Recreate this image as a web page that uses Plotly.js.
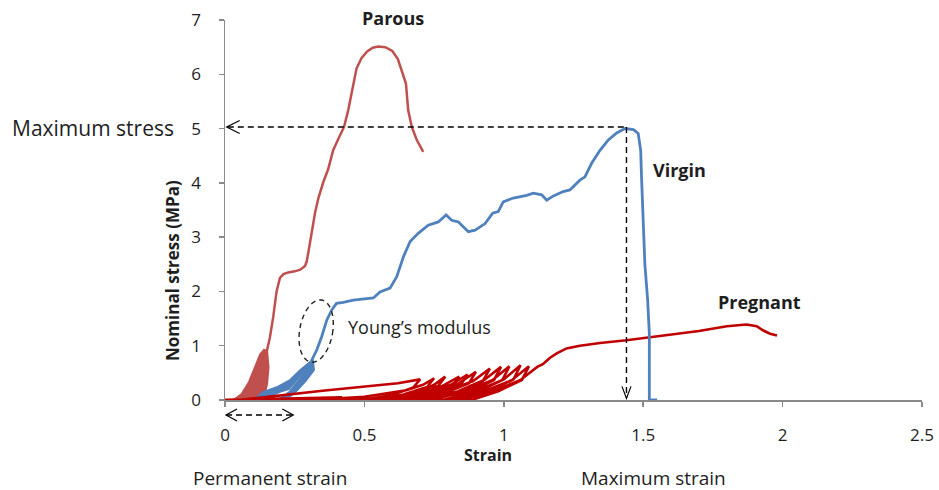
<!DOCTYPE html>
<html>
<head>
<meta charset="utf-8">
<script src="https://cdn.plot.ly/plotly-3.0.1.min.js"></script>
<style>html,body{margin:0;padding:0;background:#fff;}#chart{width:939px;height:490px;}</style>
</head>
<body>
<div id="chart"></div>
<script>
// ---------- data ----------
const xTickVals = [0, 0.5, 1, 1.5, 2, 2.5];
const xTickText = ['0', '0.5', '1', '1.5', '2', '2.5'];
const yTickVals = [0, 1, 2, 3, 4, 5, 6, 7];
const yTickText = ['0', '1', '2', '3', '4', '5', '6', '7'];

// Parous: preconditioning cycles (dense wedge) and main curve
const parousCycX = [0.03, 0.06, 0.085, 0.105, 0.125, 0.14, 0.152, 0.157, 0.152, 0.142, 0.132, 0.03];
const parousCycY = [0, 0.12, 0.33, 0.6, 0.84, 0.93, 0.9, 0.6, 0.3, 0.08, 0, 0];
const parousX = [0, 0.03, 0.06, 0.09, 0.11, 0.13, 0.15, 0.161, 0.173, 0.185, 0.197, 0.21, 0.227, 0.25, 0.27, 0.287, 0.293, 0.30, 0.311, 0.323, 0.335, 0.353, 0.37, 0.388, 0.41, 0.427, 0.442, 0.46, 0.472, 0.49, 0.51, 0.53, 0.55, 0.575, 0.60, 0.62, 0.634, 0.649, 0.657, 0.67, 0.688, 0.711];
const parousY = [0, 0.01, 0.05, 0.2, 0.4, 0.65, 0.9, 1.15, 1.53, 2.0, 2.25, 2.32, 2.35, 2.37, 2.4, 2.47, 2.55, 2.75, 3.13, 3.45, 3.72, 4.02, 4.25, 4.6, 4.85, 5.03, 5.34, 5.83, 6.11, 6.3, 6.42, 6.49, 6.51, 6.5, 6.43, 6.28, 6.08, 5.83, 5.34, 5.03, 4.79, 4.57];

// Virgin: preconditioning cycles (two lobes) and main curve
const virginCycAX = [0.10, 0.137, 0.19, 0.233, 0.269, 0.305, 0.316, 0.30, 0.26, 0.23, 0.20, 0.16, 0.13, 0.10];
const virginCycAY = [0, 0.15, 0.25, 0.37, 0.55, 0.71, 0.75, 0.62, 0.38, 0.2, 0.15, 0.06, 0, 0];
const virginCycBX = [0.16, 0.20, 0.23, 0.27, 0.30, 0.316, 0.32, 0.29, 0.26, 0.23, 0.21, 0.16];
const virginCycBY = [0, 0.04, 0.15, 0.4, 0.62, 0.74, 0.55, 0.35, 0.18, 0.05, 0, 0];
const virginX = [0.31, 0.329, 0.347, 0.365, 0.383, 0.40, 0.424, 0.46, 0.532, 0.556, 0.592, 0.616, 0.64, 0.664, 0.693, 0.729, 0.765, 0.793, 0.813, 0.837, 0.873, 0.897, 0.933, 0.96, 0.98, 0.998, 1.034, 1.082, 1.106, 1.136, 1.154, 1.178, 1.213, 1.237, 1.273, 1.291, 1.315, 1.345, 1.375, 1.405, 1.435, 1.465, 1.482, 1.491, 1.494, 1.50, 1.506, 1.516, 1.522, 1.522, 1.55];
const virginY = [0.72, 0.92, 1.17, 1.47, 1.66, 1.78, 1.80, 1.84, 1.88, 1.99, 2.06, 2.27, 2.64, 2.92, 3.07, 3.22, 3.28, 3.41, 3.31, 3.28, 3.10, 3.13, 3.25, 3.44, 3.47, 3.65, 3.72, 3.77, 3.81, 3.78, 3.68, 3.76, 3.84, 3.87, 4.05, 4.11, 4.36, 4.60, 4.79, 4.92, 5.00, 4.98, 4.91, 4.6, 4.11, 3.19, 2.5, 1.84, 1.23, 0, 0];

// Pregnant: incremental loading/unloading cycles (narrow hysteresis loops), then the final pull
const pregX = [0, 0.15, 0.30, 0.42, 0.25, 0.05,
  0.35, 0.62, 0.70, 0.675, 0.60, 0.50, 0.30,
  0.50, 0.65, 0.71, 0.75, 0.725, 0.64, 0.55, 0.45,
  0.60, 0.70, 0.75, 0.79, 0.765, 0.68, 0.59, 0.54,
  0.68, 0.78, 0.84, 0.815, 0.73, 0.64, 0.58,
  0.71, 0.81, 0.87, 0.845, 0.76, 0.67, 0.62,
  0.74, 0.84, 0.90, 0.875, 0.79, 0.70, 0.66,
  0.79, 0.89, 0.95, 0.925, 0.84, 0.75, 0.71,
  0.83, 0.93, 0.99, 0.965, 0.88, 0.79, 0.74,
  0.86, 0.96, 1.02, 0.995, 0.91, 0.82, 0.78,
  0.90, 1.00, 1.06, 1.035, 0.95, 0.86, 0.81,
  0.93, 1.03, 1.09, 1.065, 0.98, 0.89, 0.84,
  0.96, 1.06, 1.12,
  1.14, 1.166, 1.19, 1.225, 1.273, 1.345, 1.44, 1.52, 1.60, 1.70, 1.80, 1.871, 1.907, 1.931, 1.955, 1.98];
const pregY = [0, 0.02, 0.04, 0.05, 0.01, 0,
  0.17, 0.31, 0.38, 0.23, 0.09, 0.01, 0,
  0.06, 0.18, 0.28, 0.40, 0.24, 0.10, 0.01, 0,
  0.06, 0.16, 0.28, 0.43, 0.26, 0.11, 0.01, 0,
  0.11, 0.26, 0.43, 0.26, 0.11, 0.01, 0,
  0.12, 0.28, 0.47, 0.28, 0.12, 0.01, 0,
  0.13, 0.31, 0.52, 0.31, 0.13, 0.01, 0,
  0.15, 0.35, 0.58, 0.35, 0.15, 0.01, 0,
  0.15, 0.37, 0.61, 0.37, 0.15, 0.01, 0,
  0.16, 0.37, 0.62, 0.37, 0.16, 0.01, 0,
  0.16, 0.38, 0.64, 0.38, 0.16, 0.01, 0,
  0.16, 0.37, 0.62, 0.37, 0.16, 0.01, 0,
  0.15, 0.37, 0.61,
  0.66, 0.78, 0.86, 0.95, 1.00, 1.05, 1.10, 1.15, 1.20, 1.27, 1.36, 1.39, 1.36, 1.28, 1.22, 1.19];

// annotated quantities
const maxStress = 5.03;
const maxStrain = 1.44;
const permStrain = 0.245;
const youngCenter = [0.327, 1.27];

// ---------- colours ----------
const cParous = 'rgb(192,80,77)';
const cVirgin = 'rgb(79,129,189)';
const cPreg = 'rgb(192,0,0)';
const FONT = 'Open Sans, Noto Sans, sans-serif';
const TXT = '#1e1e1e';

const traces = [
  {x: parousCycX, y: parousCycY, mode: 'lines', fill: 'toself', fillcolor: cParous, line: {color: cParous, width: 1.5}},
  {x: parousX, y: parousY, mode: 'lines', line: {color: cParous, width: 2.5}},
  {x: virginCycAX, y: virginCycAY, mode: 'lines', fill: 'toself', fillcolor: cVirgin, line: {color: cVirgin, width: 1.5}},
  {x: virginCycBX, y: virginCycBY, mode: 'lines', fill: 'toself', fillcolor: cVirgin, line: {color: cVirgin, width: 1.5}},
  {x: pregX, y: pregY, mode: 'lines', line: {color: cPreg, width: 2.6}},
  {x: virginX, y: virginY, mode: 'lines', line: {color: cVirgin, width: 2.8}}
];

// geometry helpers (plot area: x 225..922, y 20..400 px)
const L = 225, R = 17, T = 20, B = 90, W = 939, H = 490;
const PW = W - L - R, PH = H - T - B;
const PX = px => (px - L) / PW;
const PY = py => (H - B - py) / PH;
const xPerPx = 2.5 / PW, yPerPx = 7 / PH;

function ann(text, px, py, opts) {
  return Object.assign({text: text, xref: 'paper', yref: 'paper', x: PX(px), y: PY(py),
    xanchor: 'center', yanchor: 'middle', showarrow: false,
    font: {family: FONT, size: 18, color: TXT}}, opts || {});
}

// ellipse around Young's modulus region (slightly tilted)
function ellipsePath(cx, cy, rxPx, ryPx, angDeg) {
  const a = angDeg * Math.PI / 180; let p = '';
  for (let i = 0; i <= 48; i++) {
    const t = i / 48 * 2 * Math.PI;
    const ex = rxPx * Math.cos(t), ey = ryPx * Math.sin(t);
    const rx = ex * Math.cos(a) - ey * Math.sin(a);
    const ry = ex * Math.sin(a) + ey * Math.cos(a);
    p += (i === 0 ? 'M' : 'L') + (cx + rx * xPerPx) + ',' + (cy + ry * yPerPx);
  }
  return p + 'Z';
}

const dashLine = {color: '#000', width: 1.4, dash: '6px,4px'};
const headLine = {color: '#000', width: 1.2};
const pArrowY = PY(415), pArrowX1 = PX(L + permStrain / xPerPx);
const hy = 6.5 * yPerPx;

const shapes = [
  // maximum stress arrow
  {type: 'line', xref: 'x', yref: 'y', x0: 0.01, x1: maxStrain, y0: maxStress, y1: maxStress, line: dashLine},
  {type: 'path', xref: 'x', yref: 'y', path: `M${0.006 + 13 * xPerPx},${maxStress + hy}L0.006,${maxStress}L${0.006 + 13 * xPerPx},${maxStress - hy}`, line: headLine},
  // maximum strain arrow
  {type: 'line', xref: 'x', yref: 'y', x0: maxStrain, x1: maxStrain, y0: maxStress, y1: 0.04, line: dashLine},
  {type: 'path', xref: 'x', yref: 'y', path: `M${maxStrain - 4.5 * xPerPx},${0.03 + 12 * yPerPx}L${maxStrain},0.03L${maxStrain + 4.5 * xPerPx},${0.03 + 12 * yPerPx}`, line: headLine},
  // permanent strain double arrow (below axis)
  {type: 'line', xref: 'paper', yref: 'paper', x0: PX(226), x1: pArrowX1, y0: pArrowY, y1: pArrowY, line: dashLine},
  {type: 'path', xref: 'paper', yref: 'paper', path: `M${PX(237)},${pArrowY + 6 / PH}L${PX(226)},${pArrowY}L${PX(237)},${pArrowY - 6 / PH}`, line: headLine},
  {type: 'path', xref: 'paper', yref: 'paper', path: `M${pArrowX1 - 11 / PW},${pArrowY + 6 / PH}L${pArrowX1},${pArrowY}L${pArrowX1 - 11 / PW},${pArrowY - 6 / PH}`, line: headLine},
  // Young's modulus ellipse
  {type: 'path', xref: 'x', yref: 'y', path: ellipsePath(youngCenter[0], youngCenter[1], 16.5, 31.5, -10), line: {color: '#222', width: 1.4, dash: '5px,4px'}}
];

const annotations = [
  ann('Parous', 393, 18, {font: {family: FONT, size: 18, color: TXT, weight: 'bold'}}),
  ann('Virgin', 679, 170, {font: {family: FONT, size: 18, color: TXT, weight: 'bold'}}),
  ann('Pregnant', 759, 302, {font: {family: FONT, size: 18, color: TXT, weight: 'bold'}}),
  ann('Young’s modulus', 419, 327),
  ann('Maximum stress', 10, 128, {xanchor: 'left', font: {family: FONT, size: 21, color: TXT}}),
  ann('Permanent strain', 270, 478, {font: {family: FONT, size: 19, color: TXT}}),
  ann('Maximum strain', 653, 478, {font: {family: FONT, size: 19, color: TXT}}),
  ann('Strain', 488, 455, {font: {family: FONT, size: 16, color: TXT, weight: 'bold'}}),
  ann('Nominal stress (MPa)', 172, 271, {textangle: -90, font: {family: FONT, size: 17, color: TXT, weight: 'bold'}})
];

const axisCommon = {showgrid: false, zeroline: false, showline: true, linecolor: '#8a8a8a', linewidth: 1.5,
  ticks: 'outside', ticklen: 5, tickcolor: '#8a8a8a', tickwidth: 1.5, fixedrange: true,
  tickfont: {family: FONT, size: 17, color: TXT}};

const layout = {
  width: W, height: H,
  margin: {l: L, r: R, t: T, b: B, pad: 0},
  paper_bgcolor: '#fff', plot_bgcolor: '#fff',
  showlegend: false,
  xaxis: Object.assign({}, axisCommon, {range: [0, 2.5], tickmode: 'array', tickvals: xTickVals, ticktext: xTickText, ticklabelstandoff: 14}),
  yaxis: Object.assign({}, axisCommon, {range: [0, 7], tickmode: 'array', tickvals: yTickVals, ticktext: yTickText, ticklabelstandoff: 14}),
  shapes: shapes,
  annotations: annotations
};

Plotly.newPlot('chart', traces, layout, {displayModeBar: false, staticPlot: true});
</script>
</body>
</html>
